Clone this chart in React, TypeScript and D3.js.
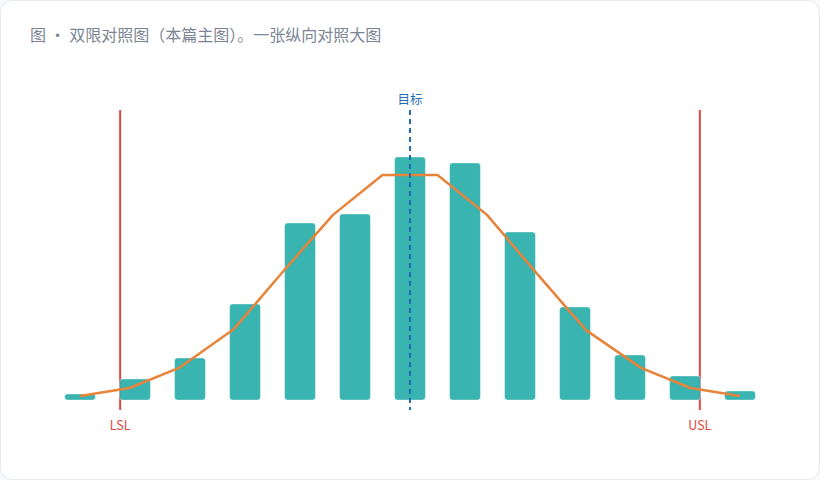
import { useEffect, useRef } from 'react';
import * as d3 from 'd3';

// histogram bins (bin centre, mm) and counts
const binCenters = [9.4, 9.5, 9.6, 9.7, 9.8, 9.9, 10.0, 10.1, 10.2, 10.3, 10.4, 10.5, 10.6];
const binCounts = [2, 7, 14, 32, 59, 62, 81, 79, 56, 31, 15, 8, 3];

// fitted curve samples
const curveX = [9.4, 9.49, 9.58, 9.68, 9.77, 9.86, 9.95, 10.05, 10.14, 10.23, 10.32, 10.42, 10.51, 10.6];
const curveY = [1.3, 4, 10.7, 23.7, 43, 61.7, 75, 75, 61.7, 42.3, 23.3, 10.7, 4, 1.3];

const LSL = 9.473;
const USL = 10.527;
const TARGET = 10.0;
const binWidth = 0.1;

const title = '图 · 双限对照图（本篇主图）。一张纵向对照大图';

export default function App() {
    const ref = useRef<SVGSVGElement | null>(null);

    useEffect(() => {
        const width = 820;
        const height = 480;
        const font = '"Noto Sans CJK SC", "Noto Sans", sans-serif';

        const svg = d3.select(ref.current);
        svg.selectAll('*').remove();
        svg.attr('viewBox', `0 0 ${width} ${height}`);

        // === card ===
        svg.append('rect')
            .attr('x', 0.5)
            .attr('y', 0.5)
            .attr('width', width - 1)
            .attr('height', height - 1)
            .attr('rx', 12)
            .attr('fill', '#ffffff')
            .attr('stroke', '#e6eaef');

        svg.append('text')
            .attr('x', 30)
            .attr('y', 41)
            .attr('font-family', font)
            .attr('font-size', '16px')
            .attr('fill', '#7b8594')
            .text(title);

        const x = d3.scaleLinear().domain([9.4, 10.6]).range([80, 740]);
        const y = d3.scaleLinear().domain([0, 100]).range([400, 100]);
        const barW = (x(binWidth) - x(0)) * 0.56;

        // === spec limits ===
        const limits = [
            { v: LSL, label: 'LSL' },
            { v: USL, label: 'USL' },
        ];
        svg.selectAll('.limit')
            .data(limits)
            .enter()
            .append('line')
            .attr('class', 'limit')
            .attr('x1', (d) => x(d.v))
            .attr('x2', (d) => x(d.v))
            .attr('y1', 110)
            .attr('y2', 410)
            .attr('stroke', '#e0473d')
            .attr('stroke-width', 2);

        svg.selectAll('.limit-label')
            .data(limits)
            .enter()
            .append('text')
            .attr('class', 'limit-label')
            .attr('x', (d) => x(d.v))
            .attr('y', 430)
            .attr('text-anchor', 'middle')
            .attr('font-family', font)
            .attr('font-size', '12.5px')
            .attr('fill', '#e0473d')
            .text((d) => d.label);

        // === bars ===
        svg.selectAll('.bar')
            .data(binCenters)
            .enter()
            .append('rect')
            .attr('class', 'bar')
            .attr('x', (d) => x(d) - barW / 2)
            .attr('y', (_, i) => y(binCounts[i]))
            .attr('width', barW)
            .attr('height', (_, i) => y(0) - y(binCounts[i]))
            .attr('rx', 3)
            .attr('fill', '#2aaeab')
            .attr('fill-opacity', 0.93)
            .attr('stroke', '#ffffff')
            .attr('stroke-opacity', 0.35);

        // === fitted curve ===
        const line = d3.line<number>()
            .x((d) => x(d))
            .y((_, i) => y(curveY[i]));

        svg.append('path')
            .attr('d', line(curveX)!)
            .attr('fill', 'none')
            .attr('stroke', '#e8833a')
            .attr('stroke-width', 2.5)
            .attr('stroke-linejoin', 'round');

        // === target ===
        svg.append('line')
            .attr('x1', x(TARGET))
            .attr('x2', x(TARGET))
            .attr('y1', 110)
            .attr('y2', 410)
            .attr('stroke', '#1f6db3')
            .attr('stroke-width', 2)
            .attr('stroke-dasharray', '5 4');

        svg.append('text')
            .attr('x', x(TARGET))
            .attr('y', 104)
            .attr('text-anchor', 'middle')
            .attr('font-family', font)
            .attr('font-size', '12.5px')
            .attr('fill', '#1f6db3')
            .text('目标');
    }, []);

    return (
        <div style={{ position: 'fixed', left: 0, top: 0, width: 820, height: 480, background: '#f7f9fb' }}>
            <svg ref={ref} width={820} height={480} style={{ display: 'block' }} />
        </div>
    );
}
